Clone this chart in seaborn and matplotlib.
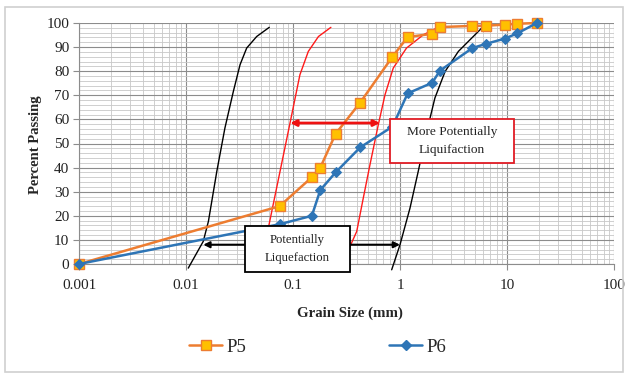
import numpy as np
import pandas as pd
import matplotlib
matplotlib.use("Agg")
import matplotlib.pyplot as plt
import seaborn as sns
from matplotlib.patches import Rectangle
from matplotlib.ticker import FixedLocator, FixedFormatter, NullFormatter
from matplotlib.lines import Line2D

# ---------------- data ----------------
sieve_sizes = [0.001, 0.075, 0.15, 0.18, 0.25, 0.425, 0.85, 1.18, 2.0, 2.36, 4.75, 6.3, 9.5, 12.5, 19.0]
p5_passing = [0, 24, 36, 40, 54, 67, 86, 94.2, 95.5, 98.3, 98.8, 98.9, 99.3, 99.7, 100]
p6_passing = [0, 16.5, 20, 30.7, 38, 48.4, 57, 70.8, 75.2, 80.2, 89.6, 91.3, 93.5, 95.7, 100]

# boundary curves (grain size mm, percent passing)
black_left_x = [0.0105, 0.0145, 0.0162, 0.0194, 0.0231, 0.0277, 0.032, 0.0369, 0.0458, 0.060]
black_left_y = [-1.7, 9.4, 17.7, 38.4, 56.4, 71.6, 82.7, 89.6, 94.4, 98.2]
red_left_x = [0.049, 0.0588, 0.0745, 0.0938, 0.116, 0.139, 0.173, 0.226]
red_left_y = [0, 14.9, 37, 58.5, 78.5, 88.2, 94.4, 98.2]
red_right_x = [0.31, 0.341, 0.394, 0.454, 0.524, 0.627, 0.724, 0.865, 1.15, 1.65, 2.37]
red_right_y = [0, 7.3, 13.5, 27.4, 41.2, 57.8, 70.2, 81.3, 89.6, 95.1, 98.6]
black_right_x = [0.836, 1.0, 1.24, 1.48, 1.78, 2.12, 2.64, 3.51, 4.5, 5.6, 6.2]
black_right_y = [-2.4, 8.0, 23.2, 38.4, 55.0, 68.9, 79.9, 88.2, 93.0, 97.2, 99.3]

# arrows (x from, x to, y)
black_arrow = (0.0145, 1.0, 8.0)
red_arrow = (0.094, 0.65, 58.5)

x_ticks = [0.001, 0.01, 0.1, 1, 10, 100]
x_tick_labels = ["0.001", "0.01", "0.1", "1", "10", "100"]
y_ticks = [0, 10, 20, 30, 40, 50, 60, 70, 80, 90, 100]

df = pd.DataFrame({
    "size": sieve_sizes * 2,
    "passing": p5_passing + p6_passing,
    "sample": ["P5"] * len(sieve_sizes) + ["P6"] * len(sieve_sizes),
})

# ---------------- style ----------------
sns.set_theme(style="white")
plt.rcParams["font.family"] = ["Liberation Serif", "DejaVu Serif"]

W, H = 628, 376
fig = plt.figure(figsize=(W / 100, H / 100), dpi=100)
fig.patch.set_facecolor("white")

def fx(px):
    return px / W

def fy(py):
    return 1 - py / H

# outer frame
fig.add_artist(Rectangle((fx(5), fy(372)), fx(623) - fx(5), fy(7) - fy(372),
                         transform=fig.transFigure, fill=False,
                         edgecolor="#d0d0d0", linewidth=1.2))

left, right, top, bottom = 79, 614, 23, 264
ax = fig.add_axes([fx(left), fy(bottom), fx(right) - fx(left), fy(top) - fy(bottom)])
ax.set_xscale("log")
ax.set_xlim(0.001, 100)
ax.set_ylim(0, 100)

# grid
ax.xaxis.set_major_locator(FixedLocator(x_ticks))
ax.xaxis.set_major_formatter(FixedFormatter(x_tick_labels))
minor_x = [m * 10.0 ** e for e in range(-3, 2) for m in range(2, 10)]
ax.xaxis.set_minor_locator(FixedLocator(minor_x))
ax.xaxis.set_minor_formatter(NullFormatter())
ax.yaxis.set_major_locator(FixedLocator(y_ticks))
ax.yaxis.set_minor_locator(FixedLocator([v for v in range(0, 101, 2) if v % 10]))
ax.grid(which="major", color="#8c8c8c", linewidth=0.8)
ax.grid(which="minor", color="#c8c8c8", linewidth=0.6)
ax.set_axisbelow(True)
for s in ["top", "right"]:
    ax.spines[s].set_visible(False)
ax.spines["left"].set_color("#8c8c8c")
ax.spines["bottom"].set_color("#8c8c8c")
ax.spines["left"].set_linewidth(0.8)
ax.spines["bottom"].set_linewidth(0.8)
ax.tick_params(axis="both", which="major", length=4, width=0.8, color="#8c8c8c",
               labelsize=11, pad=3, left=True, bottom=True, labelcolor="#222222")
ax.tick_params(axis="x", which="major", pad=7)
ax.tick_params(axis="both", which="minor", length=0)

# boundary curves
for xs, ys, col in [(black_left_x, black_left_y, "black"),
                    (red_left_x, red_left_y, "#ff1a1a"),
                    (red_right_x, red_right_y, "#ff1a1a"),
                    (black_right_x, black_right_y, "black")]:
    ln, = ax.plot(xs, ys, color=col, linewidth=1.0, zorder=3, solid_joinstyle="round")
    ln.set_clip_on(False)

# data series
palette = {"P5": "#ED7D31", "P6": "#2E75B6"}
sns.lineplot(data=df, x="size", y="passing", hue="sample", style="sample",
             markers={"P5": "s", "P6": "D"}, dashes=False, palette=palette,
             sort=False, linewidth=1.8, legend=False, ax=ax, zorder=4)
ax.set_xlabel("")
ax.set_ylabel("")
lines = ax.get_lines()[-2:]
lines[0].set_markerfacecolor("#FFC000")
lines[0].set_markeredgecolor("#ED7D31")
lines[0].set_markersize(7)
lines[0].set_markeredgewidth(1.0)
lines[1].set_markerfacecolor("#2E75B6")
lines[1].set_markeredgecolor("#2E75B6")
lines[1].set_markersize(5)
for l in lines:
    l.set_clip_on(False)

# arrows
ax.annotate("", xy=(black_arrow[0], black_arrow[2]), xytext=(black_arrow[1], black_arrow[2]),
            arrowprops=dict(arrowstyle="<|-|>", color="black", lw=1.5,
                            mutation_scale=9, shrinkA=0, shrinkB=0), zorder=5)
ax.annotate("", xy=(red_arrow[0], red_arrow[2]), xytext=(red_arrow[1], red_arrow[2]),
            arrowprops=dict(arrowstyle="<|-|>", color="#ee1111", lw=2.0,
                            mutation_scale=9, shrinkA=0, shrinkB=0), zorder=5)

# annotation boxes
def box(x0, y0, x1, y1, color, text, size):
    fig.add_artist(Rectangle((fx(x0), fy(y1)), fx(x1) - fx(x0), fy(y0) - fy(y1),
                             transform=fig.transFigure, facecolor="white",
                             edgecolor=color, linewidth=1.3, zorder=10))
    fig.text(fx((x0 + x1) / 2), fy((y0 + y1) / 2), text, ha="center", va="center",
             fontsize=size, linespacing=1.6, color="#222222", zorder=11)

box(245, 226, 350, 272, "black", "Potentially\nLiquefaction", 9.2)
box(390, 119, 514, 163, "#e01b24", "More Potentially\nLiquifaction", 9.6)

# axis labels
fig.text(fx(36), fy(145), "Percent Passing", rotation=90, ha="center", va="center",
         fontsize=10.5, fontweight="bold")
fig.text(fx(350), fy(313), "Grain Size (mm)", ha="center", va="center",
         fontsize=10.7, fontweight="bold")

# legend
handles = [Line2D([], [], color="#ED7D31", lw=1.8, marker="s", markersize=7,
                  markerfacecolor="#FFC000", markeredgecolor="#ED7D31"),
           Line2D([], [], color="#2E75B6", lw=1.8, marker="D", markersize=5,
                  markerfacecolor="#2E75B6", markeredgecolor="#2E75B6")]
fig.legend(handles, ["P5", "P6"], loc="center", bbox_to_anchor=(fx(318), fy(347)),
           ncol=2, frameon=False, fontsize=13.5, handlelength=1.75, handletextpad=0.25,
           columnspacing=7.6)

fig.savefig("out.png", dpi=100)
